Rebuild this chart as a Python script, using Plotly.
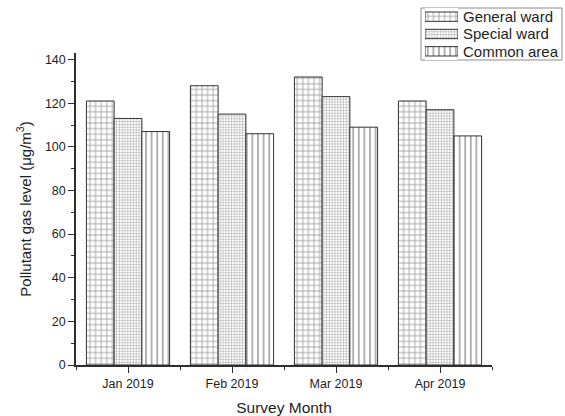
import plotly.graph_objects as go

months = ["Jan 2019", "Feb 2019", "Mar 2019", "Apr 2019"]
general_ward = [121, 128, 132, 121]
special_ward = [113, 115, 123, 117]
common_area = [107, 106, 109, 105]

series_names = ["General ward", "Special ward", "Common area"]
series_values = [general_ward, special_ward, common_area]
pattern_shapes = ["+", "+", "|"]
pattern_sizes = [5.6, 2.8, 5.6]
pattern_solidity = [0.3, 0.34, 0.3]

FONT = "Arial, Liberation Sans, sans-serif"
TEXT = "#1e1e1e"
HATCH = "#4a4a4a"
positions = list(range(len(months)))

# Pixel geometry of the page (565 x 416) used to place the main plot and the key
W, H = 565, 416
ML, MR, MT, MB = 76, 3, 8, 51
PW, PH = W - ML - MR, H - MT - MB


def px_x(px):
    return (px - ML) / PW


def px_y(py):
    return 1 - (py - MT) / PH


fig = go.Figure()
for name, values, shape, size, sol in zip(series_names, series_values,
                                          pattern_shapes, pattern_sizes,
                                          pattern_solidity):
    fig.add_trace(go.Bar(
        name=name, x=positions, y=values, showlegend=False,
        marker=dict(
            color="white",
            line=dict(color="#333333", width=1),
            pattern=dict(shape=shape, size=size, solidity=sol,
                         fgcolor=HATCH, bgcolor="white",
                         fillmode="overlay"),
        ),
    ))

# Key: wide patterned swatches on a small hidden axis pair, labels as annotations
key_rows = list(range(len(series_names)))
fig.add_trace(go.Bar(
    x=[1] * len(series_names), y=key_rows, orientation="h",
    xaxis="x2", yaxis="y2", width=0.54, showlegend=False, hoverinfo="skip",
    marker=dict(
        color="white",
        line=dict(color="#333333", width=1),
        pattern=dict(shape=pattern_shapes, size=pattern_sizes,
                     solidity=pattern_solidity,
                     fgcolor=HATCH, bgcolor="white", fillmode="overlay"),
    ),
))

key_top, key_bottom = 8, 60
row_h = (key_bottom - key_top) / len(series_names)
annotations = []
for i, name in enumerate(series_names):
    cy = key_top + row_h * (i + 0.5)
    annotations.append(dict(
        x=px_x(461), y=px_y(cy), xref="paper", yref="paper",
        xanchor="left", yanchor="middle", showarrow=False,
        text=name, font=dict(size=15, family=FONT, color=TEXT),
    ))

axis_line = dict(showline=True, linecolor="#2e2e2e", linewidth=1.5,
                 showgrid=False, zeroline=False,
                 ticks="outside", ticklen=6, tickwidth=1.2, tickcolor="#2e2e2e",
                 tickfont=dict(size=12.5, family=FONT, color=TEXT))

fig.update_layout(
    width=W, height=H,
    margin=dict(l=ML, r=MR, t=MT, b=MB),
    paper_bgcolor="white", plot_bgcolor="white",
    barmode="group", bargap=0.2, bargroupgap=0,
    font=dict(family=FONT, color=TEXT),
    showlegend=False,
    annotations=annotations,
    shapes=[dict(
        type="rect", xref="paper", yref="paper",
        x0=px_x(421), x1=px_x(562), y0=px_y(key_bottom), y1=px_y(key_top),
        line=dict(color="#8a8a8a", width=1), fillcolor="rgba(0,0,0,0)",
        layer="below",
    )],
    xaxis=dict(
        domain=[0, px_x(492)],
        range=[-0.5, 3.5],
        tickmode="array", tickvals=positions, ticktext=months,
        minor=dict(tick0=0.5, dtick=1, ticks="outside", ticklen=3,
                   tickwidth=1.2, tickcolor="#2e2e2e", showgrid=False),
        title=dict(text="Survey Month",
                   font=dict(size=15.5, family=FONT, color=TEXT), standoff=12),
        **axis_line,
    ),
    yaxis=dict(
        domain=[0, px_y(53)],
        range=[0, 143],
        tick0=0, dtick=20,
        minor=dict(dtick=10, ticks="outside", ticklen=3, tickwidth=1.2,
                   tickcolor="#2e2e2e", showgrid=False),
        title=dict(text="Pollutant gas level (μg/m<sup>3</sup>)",
                   font=dict(size=15, family=FONT, color=TEXT), standoff=10),
        **axis_line,
    ),
    xaxis2=dict(domain=[px_x(425), px_x(458)], range=[0, 1], anchor="y2",
                visible=False, fixedrange=True),
    yaxis2=dict(domain=[px_y(key_bottom), px_y(key_top)], range=[2.5, -0.5],
                anchor="x2", visible=False, fixedrange=True),
)

fig.write_html("out.html")
